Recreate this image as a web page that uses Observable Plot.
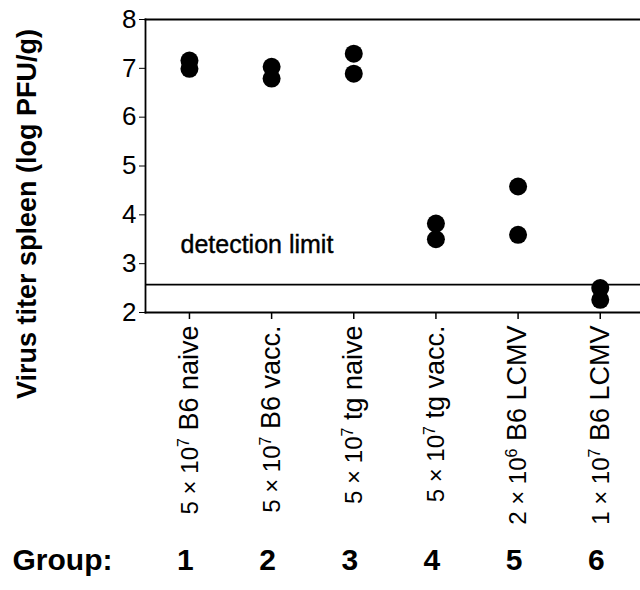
<!DOCTYPE html>
<html>
<head>
<meta charset="utf-8">
<script src="https://cdn.jsdelivr.net/npm/d3@7"></script>
<script src="https://cdn.jsdelivr.net/npm/@observablehq/plot@0.6"></script>
<style>
  html, body { margin: 0; padding: 0; background: #fff; }
  #chart svg { display: block; }
</style>
</head>
<body>
<div id="chart"></div>
<script>
// ---- data ----
const groups = [1, 2, 3, 4, 5, 6];
const doseCoef = ["5", "5", "5", "5", "2", "1"];
const doseExp = ["7", "7", "7", "7", "6", "7"];
const strain = ["B6", "B6", "tg", "tg", "B6", "B6"];
const treatment = ["naive", "vacc.", "naive", "vacc.", "LCMV", "LCMV"];
const titerA = [7.16, 7.03, 7.30, 3.82, 4.58, 2.50];
const titerB = [6.99, 6.79, 6.89, 3.50, 3.59, 2.26];
const yTicks = [2, 3, 4, 5, 6, 7, 8];
const detectionLimit = 2.57;
const yTitle = "Virus titer spleen (log PFU/g)";
const groupTitle = "Group:";
const limitLabel = "detection limit";

const points = groups.flatMap((g, i) => [
  {group: g, titer: titerA[i]},
  {group: g, titer: titerB[i]}
]);
const labels = groups.map((g, i) => ({
  group: g,
  text: `${doseCoef[i]} × 10|${doseExp[i]}| ${strain[i]} ${treatment[i]}`
}));

const font = "'Liberation Sans', Arial, Helvetica, sans-serif";

const chart = Plot.plot({
  width: 640,
  height: 590,
  marginTop: 19,
  marginBottom: 278,
  marginLeft: 145,
  marginRight: 0,
  style: {fontFamily: font, color: "#000", background: "#fff"},
  x: {type: "linear", domain: [0.465, 6.49]},
  y: {domain: [2, 8]},
  marks: [
    Plot.frame({anchor: "left", stroke: "#000", strokeWidth: 1.8}),
    Plot.frame({anchor: "top", stroke: "#000", strokeWidth: 1.8}),
    Plot.frame({anchor: "bottom", stroke: "#000", strokeWidth: 1.8}),
    Plot.axisY({ticks: yTicks, tickSize: 6, tickPadding: 3, fontSize: 26, label: null,
      stroke: "#000", tickFormat: d3.format("d")}),
    Plot.axisX({ticks: groups, tickSize: 7, tickFormat: () => "", label: null, stroke: "#000", strokeWidth: 1.5}),
    Plot.ruleY([detectionLimit], {stroke: "#000", strokeWidth: 1.8}),
    Plot.text([limitLabel], {frameAnchor: "left", y: [detectionLimit], text: d => d, dx: 35, dy: -40,
      textAnchor: "start", lineAnchor: "middle", fontSize: 25, fill: "#000", stroke: "#000", strokeWidth: 0.4}),
    Plot.dot(points, {x: "group", y: "titer", r: 9, fill: "#000", stroke: "none"}),
    Plot.text(labels, {x: "group", frameAnchor: "bottom", text: "text", rotate: -90, textAnchor: "end",
      lineAnchor: "middle", dy: 13, fontSize: 26, fill: "#000", className: "xlab"}),
    Plot.text(groups, {x: d => d, frameAnchor: "bottom", text: d => String(d), dy: 248, dx: -4,
      lineAnchor: "middle", textAnchor: "middle", fontSize: 30, fontWeight: "bold", fill: "#000"}),
    Plot.text([groupTitle], {frameAnchor: "bottom-left", text: d => d, dx: -133, dy: 248,
      textAnchor: "start", lineAnchor: "middle", fontSize: 30, fontWeight: "bold", fill: "#000"}),
    Plot.text([yTitle], {frameAnchor: "left", text: d => d, rotate: -90, dx: -118, dy: 48,
      textAnchor: "middle", lineAnchor: "middle", fontSize: 27, fontWeight: "bold", fill: "#000"})
  ]
});

// superscript post-processing of the rotated group labels
chart.querySelectorAll(".xlab text").forEach(t => {
  const parts = t.textContent.split("|");
  if (parts.length !== 3) return;
  t.textContent = "";
  const ns = "http://www.w3.org/2000/svg";
  const a = document.createElementNS(ns, "tspan");
  a.setAttribute("font-size", "24");
  a.textContent = parts[0];
  const b = document.createElementNS(ns, "tspan");
  b.setAttribute("font-size", "16");
  b.setAttribute("dy", "-9");
  b.textContent = parts[1];
  const c = document.createElementNS(ns, "tspan");
  c.setAttribute("font-size", "27");
  c.setAttribute("dy", "9");
  c.textContent = parts[2];
  t.append(a, b, c);
});

document.getElementById("chart").append(chart);
</script>
</body>
</html>
